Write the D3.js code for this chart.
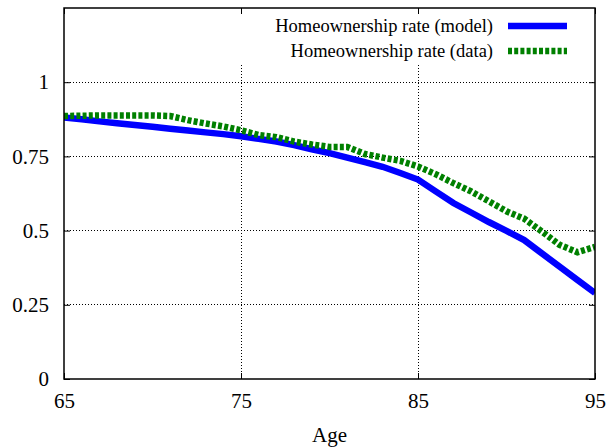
<!DOCTYPE html>
<html><head><meta charset="utf-8">
<script src="https://cdn.jsdelivr.net/npm/d3@7"></script>
<style>body{margin:0;background:#fff}svg{display:block}</style>
</head><body>
<svg id="c" width="609" height="448"></svg>
<script>
const ages = [65,66,67,68,69,70,71,72,73,74,75,76,77,78,79,80,81,82,83,84,85,86,87,88,89,90,91,92,93,94,95];
const modelRate = [0.881,0.875,0.868,0.862,0.856,0.850,0.843,0.837,0.831,0.825,0.818,0.809,0.800,0.788,0.774,0.761,0.746,0.731,0.715,0.694,0.672,0.632,0.593,0.561,0.529,0.499,0.468,0.423,0.379,0.334,0.290];
const dataRate = [0.886,0.887,0.888,0.888,0.888,0.888,0.886,0.872,0.861,0.851,0.838,0.822,0.815,0.800,0.790,0.782,0.782,0.758,0.746,0.735,0.716,0.690,0.660,0.632,0.599,0.565,0.540,0.497,0.452,0.427,0.445];
const xTicks = [65,75,85,95];
const yTicks = [0,0.25,0.5,0.75,1];
const yTickLabels = ["0","0.25","0.5","0.75","1"];
const seriesNames = ["Homeownership rate (model)","Homeownership rate (data)"];
const xTitle = "Age";

const svg = d3.select("#c");
const L=64, R=595, T=8, B=379;
const x = d3.scaleLinear().domain([65,95]).range([L,R]);
const y = d3.scaleLinear().domain([0,1.25]).range([B,T]);
const font = "'Liberation Serif','Times New Roman',serif";

// grid
const g = svg.append("g");
g.selectAll("line.hg").data(yTicks.filter(v=>v>0)).join("line")
  .attr("x1",L).attr("x2",R).attr("y1",d=>y(d)).attr("y2",d=>y(d))
  .attr("stroke","#000").attr("stroke-width",1).attr("stroke-dasharray","1,2").attr("shape-rendering","crispEdges");
g.selectAll("line.vg").data(xTicks.filter(v=>v>65&&v<95)).join("line")
  .attr("x1",d=>x(d)).attr("x2",d=>x(d)).attr("y1",T).attr("y2",B)
  .attr("stroke","#000").attr("stroke-width",1).attr("stroke-dasharray","1,2").attr("shape-rendering","crispEdges");

// legend background box (opaque)
svg.append("rect").attr("x",232).attr("y",T+2).attr("width",R-232-10).attr("height",54).attr("fill","#fff");

// axes with inward ticks
const ax = svg.append("g").attr("font-family",font);
const xb = d3.axisBottom(x).tickValues(xTicks).tickSize(-6).tickPadding(14).tickFormat(d3.format("d"));
const xt = d3.axisTop(x).tickValues(xTicks).tickSize(-6).tickFormat("");
const yl = d3.axisLeft(y).tickValues(yTicks).tickSize(-6).tickPadding(15).tickFormat((d,i)=>yTickLabels[i]);
const yr = d3.axisRight(y).tickValues(yTicks).tickSize(-6).tickFormat("");
function style(sel){sel.select(".domain").remove();sel.selectAll("line").attr("stroke","#000").attr("stroke-width",1);sel.selectAll("text").attr("font-family",font).attr("font-size",21).attr("fill","#000");}
ax.append("g").attr("transform",`translate(0,${B})`).call(xb).call(style);
ax.append("g").attr("transform",`translate(0,${T})`).call(xt).call(style);
ax.append("g").attr("transform",`translate(${L},0)`).call(yl).call(style);
ax.append("g").attr("transform",`translate(${R},0)`).call(yr).call(style);

// lines
svg.append("clipPath").attr("id","pc").append("rect").attr("x",L).attr("y",T).attr("width",R-L).attr("height",B-T);
const line = d3.line().x(d=>x(d[0])).y(d=>y(d[1]));
const lg = svg.append("g").attr("clip-path","url(#pc)");
lg.append("path").datum(ages.map((a,i)=>[a,modelRate[i]])).attr("d",line)
  .attr("fill","none").attr("stroke","#0000ff").attr("stroke-width",6.5).attr("stroke-linejoin","miter");
lg.append("path").datum(ages.map((a,i)=>[a,dataRate[i]])).attr("d",line)
  .attr("fill","none").attr("stroke","#008000").attr("stroke-width",6.5).attr("stroke-dasharray","4,2.2");

// frame
svg.append("rect").attr("x",L).attr("y",T).attr("width",R-L).attr("height",B-T)
  .attr("fill","none").attr("stroke","#000").attr("stroke-width",1.5);

// legend
const leg = svg.append("g").attr("font-family",font).attr("font-size",18.5);
const rows = [{name:seriesNames[0],c:"#0000ff",dash:null,y:26},{name:seriesNames[1],c:"#008000",dash:"4,2.2",y:51}];
rows.forEach(r=>{
  leg.append("text").attr("x",493).attr("y",r.y).attr("dy","0.33em").attr("text-anchor","end").text(r.name);
  leg.append("line").attr("x1",508).attr("x2",567).attr("y1",r.y).attr("y2",r.y)
    .attr("stroke",r.c).attr("stroke-width",6.5).attr("stroke-dasharray",r.dash);
});

// x title
svg.append("text").attr("x",x(80)).attr("y",442).attr("text-anchor","middle")
  .attr("font-family",font).attr("font-size",21).text(xTitle);
</script>
</body></html>
